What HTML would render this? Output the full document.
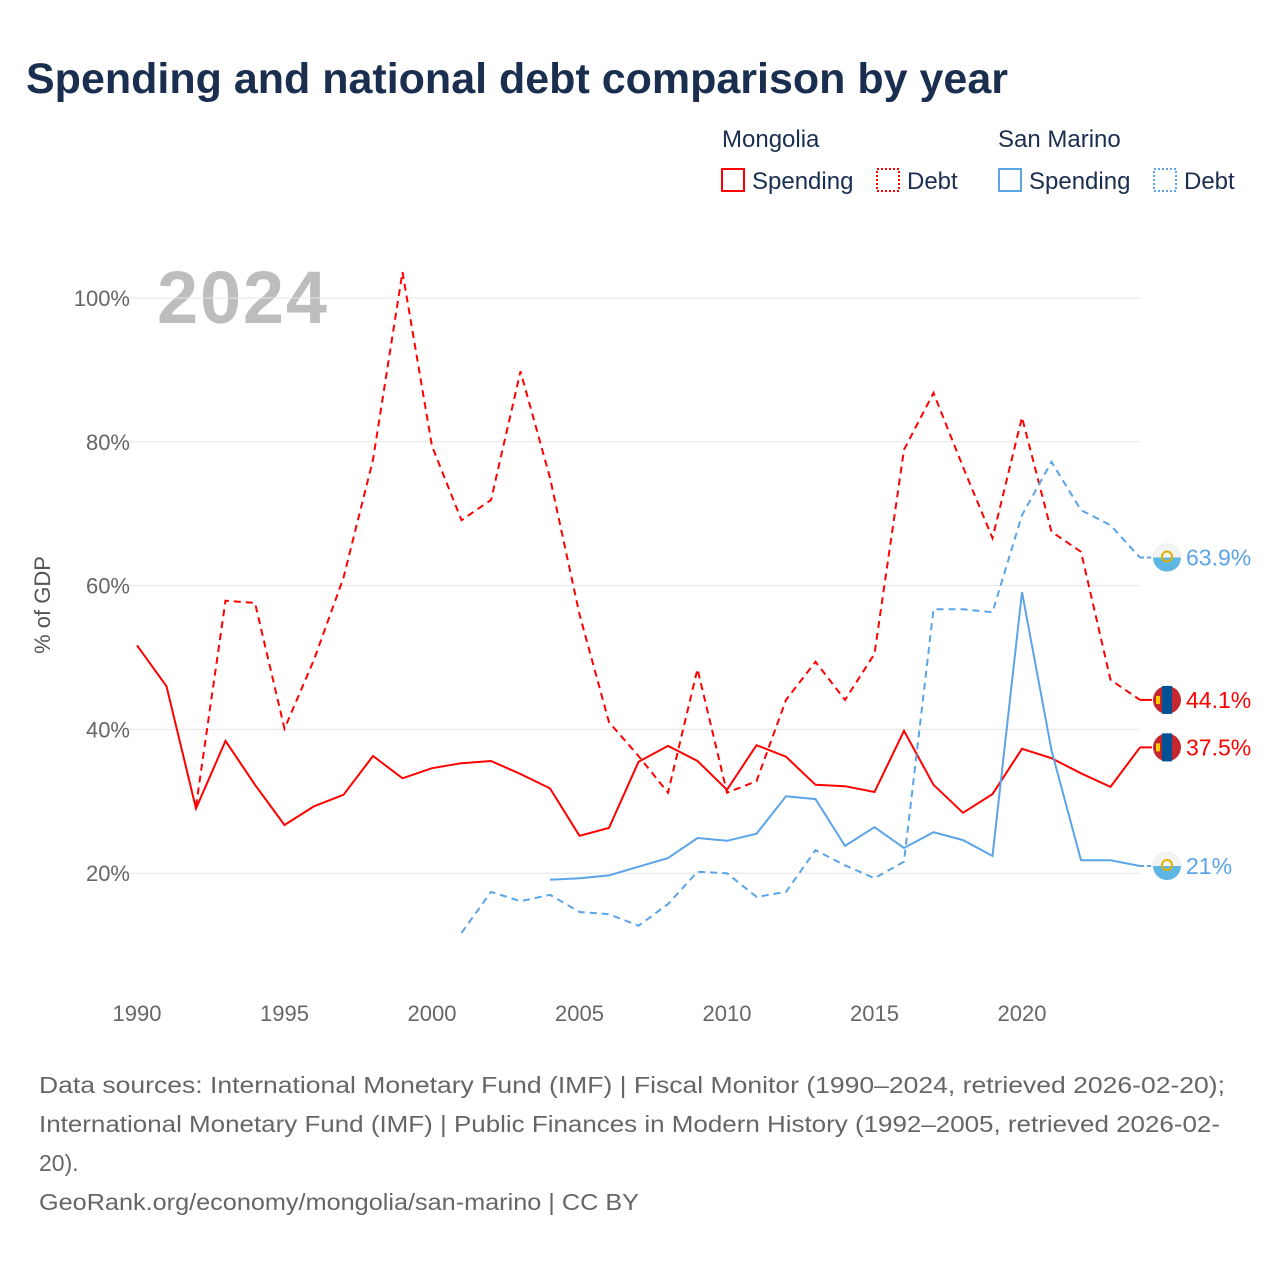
<!DOCTYPE html>
<html><head><meta charset="utf-8"><style>
body{margin:0;width:1280px;height:1280px;background:#fff;font-family:"Liberation Sans",sans-serif;overflow:hidden}
svg{position:absolute;left:0;top:0}
</style></head><body>
<svg id="c" width="1280" height="1280">
<text x="26" y="93" font-size="43" font-weight="bold" fill="#1a2e4f">Spending and national debt comparison by year</text>
<g font-size="24" fill="#1a2e4f">
<text x="722" y="147">Mongolia</text>
<text x="998" y="147">San Marino</text>
<rect x="722" y="169" width="22" height="22" fill="none" stroke="#f00" stroke-width="2"/>
<text x="752" y="189">Spending</text>
<rect x="877" y="169" width="22" height="22" fill="none" stroke="#f00" stroke-width="2" stroke-dasharray="2,2"/>
<text x="907" y="189">Debt</text>
<rect x="999" y="169" width="22" height="22" fill="none" stroke="#5ba4e8" stroke-width="2"/>
<text x="1029" y="189">Spending</text>
<rect x="1154" y="169" width="22" height="22" fill="none" stroke="#5ba4e8" stroke-width="2" stroke-dasharray="2,2"/>
<text x="1184" y="189">Debt</text>
</g>
<text x="157" y="323" font-size="74" font-weight="bold" fill="#bdbdbd" textLength="170">2024</text>
<text transform="translate(50,605) rotate(-90)" text-anchor="middle" font-size="22" fill="#555">% of GDP</text>
<g id="grid"></g><g id="series"></g><g id="ends"></g>
<g font-size="23" fill="#666">
<text x="39" y="1093" textLength="1186" lengthAdjust="spacingAndGlyphs">Data sources: International Monetary Fund (IMF) | Fiscal Monitor (1990–2024, retrieved 2026-02-20);</text>
<text x="39" y="1132" textLength="1181" lengthAdjust="spacingAndGlyphs">International Monetary Fund (IMF) | Public Finances in Modern History (1992–2005, retrieved 2026-02-</text>
<text x="39" y="1171">20).</text>
<text x="39" y="1210" textLength="600" lengthAdjust="spacingAndGlyphs">GeoRank.org/economy/mongolia/san-marino | CC BY</text>
</g>
</svg>
<script>
const yTicks=[20,40,60,80,100];
const xTicks=[1990,1995,2000,2005,2010,2015,2020];
const mnSpendYears=[1990,1991,1992,1993,1994,1995,1996,1997,1998,1999,2000,2001,2002,2003,2004,2005,2006,2007,2008,2009,2010,2011,2012,2013,2014,2015,2016,2017,2018,2019,2020,2021,2022,2023,2024];
const mnSpend=[51.7,46,29,38.4,32.3,26.7,29.3,30.9,36.3,33.2,34.6,35.3,35.6,33.8,31.8,25.2,26.3,35.5,37.7,35.6,31.6,37.8,36.2,32.3,32.1,31.3,39.8,32.3,28.4,31.0,37.3,36,33.9,32,37.5];
const mnDebtYears=[1992,1993,1994,1995,1996,1997,1998,1999,2000,2001,2002,2003,2004,2005,2006,2007,2008,2009,2010,2011,2012,2013,2014,2015,2016,2017,2018,2019,2020,2021,2022,2023,2024];
const mnDebt=[29.3,57.9,57.6,40.1,49.7,61.1,77.5,103.6,79.4,69.1,71.9,89.8,75,56,41,36.3,31.2,48.4,31.2,32.8,44.1,49.4,44.1,50.5,78.9,86.8,76.5,66.6,83.4,67.5,64.7,46.9,44.1];
const smSpendYears=[2004,2005,2006,2007,2008,2009,2010,2011,2012,2013,2014,2015,2016,2017,2018,2019,2020,2021,2022,2023,2024];
const smSpend=[19.1,19.3,19.7,20.9,22.1,24.9,24.5,25.5,30.7,30.3,23.8,26.4,23.5,25.7,24.6,22.4,59.1,37.1,21.8,21.8,21];
const smDebtYears=[2001,2002,2003,2004,2005,2006,2007,2008,2009,2010,2011,2012,2013,2014,2015,2016,2017,2018,2019,2020,2021,2022,2023,2024];
const smDebt=[11.7,17.4,16.1,17,14.6,14.3,12.7,15.7,20.2,20,16.7,17.4,23.2,21.1,19.3,21.6,56.7,56.7,56.3,69.8,77.2,70.5,68.4,63.9];
const NS="http://www.w3.org/2000/svg";
const X=y=>137+(y-1990)*(1140-137)/34;
const Y=v=>1017-v*7.19;
function mk(t,a,p){const e=document.createElementNS(NS,t);for(const k in a)e.setAttribute(k,a[k]);p.appendChild(e);return e;}
const g=document.getElementById('grid');
yTicks.forEach(v=>{
 const l=mk('line',{x1:130,x2:1140,y1:Y(v),y2:Y(v),stroke:'#e6e6e6'},g);
 
 
 const t=mk('text',{x:130,y:Y(v)+8,'text-anchor':'end','font-size':22,fill:'#666'},g);t.textContent=v+'%';
 
 
});
xTicks.forEach(v=>{
 const t=mk('text',{x:X(v),y:1021,'text-anchor':'middle','font-size':22,fill:'#666'},g);t.textContent=v;
 
 
});
const s=document.getElementById('series');
function line(ys,vs,col,dash,name){
 const d=ys.map((y,i)=>(i?'L':'M')+X(y).toFixed(1)+','+Y(vs[i]).toFixed(1)).join('');
 const p=mk('path',{d:d,fill:'none',stroke:col,'stroke-width':2},s);
 if(dash)p.setAttribute('stroke-dasharray','7,5');
 
 
}
line(mnDebtYears,mnDebt,'#f00',1,'mongolia-debt-line');
line(mnSpendYears,mnSpend,'#f00',0,'mongolia-spending-line');
line(smDebtYears,smDebt,'#5ba4e8',1,'san-marino-debt-line');
line(smSpendYears,smSpend,'#5ba4e8',0,'san-marino-spending-line');
const e=document.getElementById('ends');
function end(v,col,mn,name,lab){
 const cx=1167,cy=Y(v);
 const grp=mk('g',{},e);
 
 
 mk('line',{x1:1140,x2:1152,y1:cy,y2:cy,stroke:col,'stroke-width':2,'stroke-dasharray':mn?'':'4,3'},grp);
 if(mn){
  mk('circle',{cx:cx,cy:cy,r:14,fill:'#c4272f'},grp);
  mk('rect',{x:cx-5,y:cy-14,width:10,height:28,fill:'#015197'},grp);
  mk('rect',{x:cx-11,y:cy-4,width:4,height:8,fill:'#f9cf02'},grp);
 }else{
  mk('circle',{cx:cx,cy:cy,r:14,fill:'#5eb6e4'},grp);
  mk('path',{d:`M${cx-14},${cy} A14,14 0 0 1 ${cx+14},${cy} Z`,fill:'#f4f4f4'},grp);
  mk('circle',{cx:cx,cy:cy-1,r:5,fill:'none',stroke:'#e0b000','stroke-width':2},grp);
 }
 const t=mk('text',{x:1186,y:cy+8,'font-size':23,fill:col},grp);t.textContent=lab;
}
end(smDebt[smDebt.length-1],'#5ba4e8',0,'san-marino-debt-end-label',smDebt[smDebt.length-1]+'%');
end(mnDebt[mnDebt.length-1],'#f00',1,'mongolia-debt-end-label',mnDebt[mnDebt.length-1]+'%');
end(mnSpend[mnSpend.length-1],'#f00',1,'mongolia-spending-end-label',mnSpend[mnSpend.length-1]+'%');
end(smSpend[smSpend.length-1],'#5ba4e8',0,'san-marino-spending-end-label',smSpend[smSpend.length-1]+'%');
</script>
</body></html>
